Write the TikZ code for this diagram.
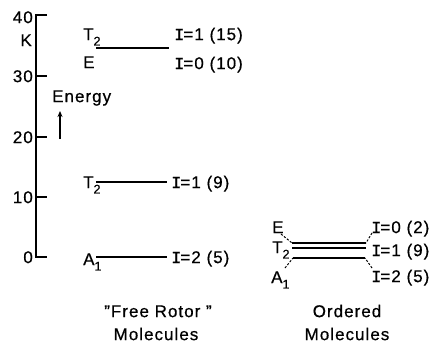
\documentclass[tikz,border=0pt]{standalone}
\usepackage{fontspec}
\setmainfont{Liberation Sans}[LetterSpace=6, FakeBold=0.6]
\newfontfamily\serifI{Liberation Mono}[FakeBold=1.2]
\usetikzlibrary{arrows.meta}
\newcommand\sbs[1]{\raisebox{-0.6ex}{\fontsize{12.5}{12.5}\selectfont #1}}
\newcommand\II{{\serifI I}\kern-1pt}
\begin{document}
\begin{tikzpicture}[x=1pt,y=-1pt,
  lab/.style={inner sep=0pt, text height=12.2pt, text depth=0pt, font=\fontsize{17}{18}\selectfont},
  level/.style={line width=1.2pt},
  axisline/.style={line width=1.5pt},
  conn/.style={line width=1pt, dash pattern=on 2.2pt off 1.6pt}]
\useasboundingbox (0,0) rectangle (431,343);
% axis
\coordinate (ax0) at (36,257);
\coordinate (ax40) at (36,15);
\coordinate (t0) at (47,257);
\draw[axisline, line join=miter] (47,15) -- (ax40) -- (ax0) -- (t0);
\foreach \v/\y in {30/76,20/137,10/197} {
  \coordinate (tk\v) at (36,\y);
  \coordinate (tke\v) at (47,\y);
  \draw[axisline] (tk\v) -- (tke\v);
}
\foreach \v/\y in {40/17,30/76,20/137,10/197,0/257} {
  \node[lab, anchor=east] (n\v) at (33,\y) {\v};
}
\node[lab, anchor=east] (K) at (32,40) {K};
% energy arrow
\node[lab, anchor=west] (energy) at (52,96) {Energy};
\coordinate (arrS) at (60,139);
\coordinate (arrE) at (60,111);
\draw[line width=1.2pt, -{Stealth[length=6pt,width=5pt]}] (arrS) -- (arrE);
% free rotor levels
\coordinate (a1) at (96,48);  \coordinate (b1) at (169,48);
\coordinate (a2) at (96,182); \coordinate (b2) at (167,182);
\coordinate (a3) at (96,257); \coordinate (b3) at (167,257);
\draw[level] (a1) -- (b1);
\draw[level] (a2) -- (b2);
\draw[level] (a3) -- (b3);
\node[lab, anchor=west] (fT2a) at (83,34) {T\sbs{2}};
\node[lab, anchor=west] (fE) at (83,62) {E};
\node[lab, anchor=west] (fT2b) at (83,182) {T\sbs{2}};
\node[lab, anchor=west] (fA1) at (83,259) {A\sbs{1}};
\node[lab, anchor=west] (fI15) at (174,34) {\II=1 (15)};
\node[lab, anchor=west] (fI10) at (174,63) {\II=0 (10)};
\node[lab, anchor=west] (fI9) at (171,182) {\II=1 (9)};
\node[lab, anchor=west] (fI5) at (171,257) {\II=2 (5)};
\node[lab, anchor=center] (fr1) at (158,311) {"Free Rotor "};
\node[lab, anchor=center] (fr2) at (156,334) {Molecules};
% ordered levels
\coordinate (oa1) at (292,243); \coordinate (ob1) at (366,243);
\coordinate (oa2) at (292,248); \coordinate (ob2) at (366,248);
\coordinate (oa3) at (293,258); \coordinate (ob3) at (365,258);
\draw[level] (oa1) -- (ob1);
\draw[level] (oa2) -- (ob2);
\draw[level] (oa3) -- (ob3);
\node[lab, anchor=west] (oE) at (272,227) {E};
\node[lab, anchor=west] (oT2) at (272,247) {T\sbs{2}};
\node[lab, anchor=west] (oA1) at (271,277) {A\sbs{1}};
\node[lab, anchor=west] (oI2) at (371,227) {\II=0 (2)};
\node[lab, anchor=west] (oI9) at (371,250) {\II=1 (9)};
\node[lab, anchor=west] (oI5) at (371,276) {\II=2 (5)};
\coordinate (cE) at (281,234);
\coordinate (cA) at (285,268);
\coordinate (cI2) at (372,233);
\coordinate (cI5) at (372,268);
\draw[conn] (cE) -- (oa1);
\draw[conn] (cA) -- (oa3);
\draw[conn] (cI2) -- (ob1);
\draw[conn] (cI5) -- (ob3);
\node[lab, anchor=center] (or1) at (347,311) {Ordered};
\node[lab, anchor=center] (or2) at (347,334) {Molecules};
\end{tikzpicture}
\end{document}
